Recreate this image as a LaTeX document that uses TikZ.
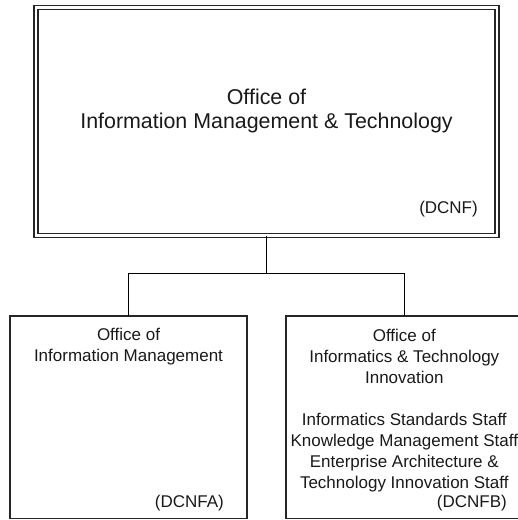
\documentclass[tikz,border=0pt]{standalone}
\usepackage{fontspec}
\setmainfont{Liberation Sans}
\usetikzlibrary{positioning}

\begin{document}
\begin{tikzpicture}[
  x=1pt, y=-1pt,
  office/.style={draw=black!85, inner sep=0pt, outer sep=0pt, line width=1.5pt},
  topbox/.style={office, line width=1.3pt, double, double distance=2.6pt, minimum width=461pt, minimum height=228pt},
  subbox/.style={office, minimum width=237pt, minimum height=202.5pt},
  bigtxt/.style={font=\fontsize{21.4}{24}\selectfont, align=center, inner sep=0pt, text=black!90},
  txt/.style={font=\fontsize{17}{21}\selectfont, align=center, inner sep=0pt, text=black!90},
  code/.style={txt, anchor=east},
  link/.style={draw=black, line width=1.6pt},
]
\clip (0,0) rectangle (518,520);

% ---- head office ----
\node[topbox] (omt) at (266.5,121.5) {};
\node[bigtxt] (omtname) at (266.5,111) {Office of\\Information Management \& Technology};
\node[code] (dcnf) at (478,209) {(DCNF)};

% ---- the two offices below ----
\node[subbox] (oim) at (128.5,417.25) {};
\node[txt, below=12pt of oim.north] (oimname) {Office of\\Information Management};
\node[code] (dcnfa) at (224,503) {(DCNFA)};

\node[subbox] (oiti) at (404.3,417.25) {};
\node[txt, below=12.5pt of oiti.north] (oitiname) {Office of\\Informatics \& Technology\\Innovation\\[21pt]%
  Informatics Standards Staff\\Knowledge Management Staff\\Enterprise Architecture \&\\Technology Innovation Staff};
\node[code] (dcnfb) at (507,503) {(DCNFB)};

% ---- reporting lines ----
\draw[link] (omt.south) -- ++(0,38) coordinate (bus);
\draw[link] (bus) -| (oim.north);
\draw[link] (bus) -| (oiti.north);
\end{tikzpicture}
\end{document}
